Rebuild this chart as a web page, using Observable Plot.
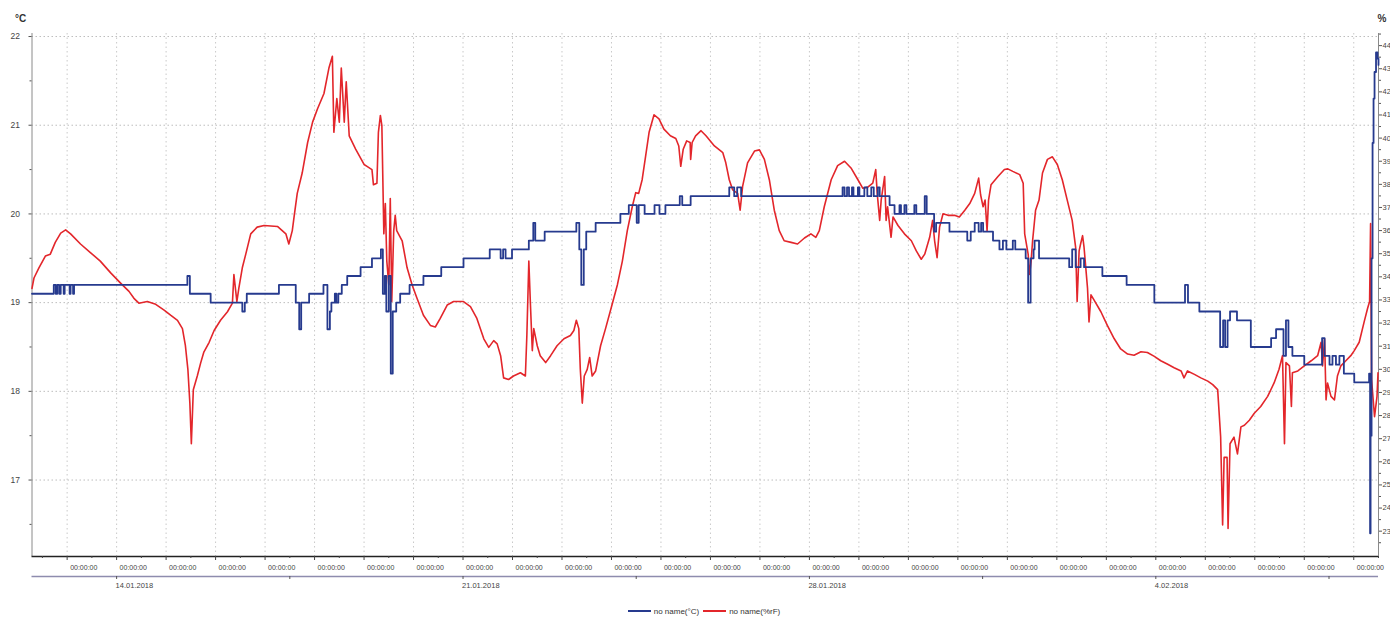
<!DOCTYPE html>
<html><head><meta charset="utf-8">
<script src="https://cdn.jsdelivr.net/npm/d3@7"></script>
<script src="https://cdn.jsdelivr.net/npm/@observablehq/plot@0.6"></script>
<style>
body{margin:0;background:#fff;font-family:"Liberation Sans",Arial,sans-serif;}
#chart{height:600px}
#legend{display:flex;justify-content:center;align-items:center;font-size:8px;color:#333;height:22px;padding-left:22px;box-sizing:border-box}
#legend span.sw{display:inline-block;width:23px;height:2px;margin:0 3px 0 0}
#legend span.lab{margin-right:4px}
</style></head><body>
<div id="chart"></div>
<div id="legend"></div>
<script>
// ---- data (day of January 2018, fractional; 35 = 4 Feb) ----
const tempDays=[12.29,12.73,12.77,12.80,12.84,12.87,12.93,12.95,13.05,13.07,13.12,13.14,15.43,15.48,15.90,16.54,16.59,16.63,17.28,17.62,17.69,17.73,17.89,18.18,18.26,18.31,18.34,18.41,18.44,18.48,18.55,18.66,18.93,19.16,19.34,19.38,19.42,19.45,19.50,19.54,19.58,19.65,19.73,19.92,20.20,20.56,21.01,21.54,21.76,21.81,21.86,21.99,22.33,22.42,22.46,22.65,23.29,23.35,23.39,23.44,23.49,23.68,24.18,24.35,24.51,24.55,24.67,24.87,24.97,25.09,25.38,25.43,25.60,26.38,26.48,26.54,26.62,28.67,28.71,28.76,28.80,28.86,28.89,28.98,29.01,29.11,29.17,29.25,29.30,29.38,29.42,29.62,29.72,29.82,29.85,29.92,29.96,30.12,30.16,30.33,30.37,30.52,30.56,30.83,31.19,31.26,31.34,31.42,31.47,31.51,31.71,31.84,31.91,31.98,32.11,32.16,32.37,32.42,32.47,32.53,32.55,32.64,33.25,33.31,33.38,33.48,33.55,33.92,34.41,34.97,35.59,35.65,35.88,36.30,36.36,36.40,36.45,36.50,36.64,36.92,37.33,37.43,37.58,37.63,37.68,37.76,38.00,38.36,38.41,38.51,38.57,38.64,38.71,38.80,39.01,39.31,39.33,39.34,39.36,39.38,39.40,39.42,39.45,39.48,39.50];
const tempValues=[19.1,19.2,19.1,19.2,19.1,19.2,19.1,19.2,19.1,19.2,19.1,19.2,19.3,19.1,19.0,18.9,19.0,19.1,19.2,19.0,18.7,19.0,19.1,19.2,18.7,18.9,19.0,19.1,19.0,19.1,19.2,19.3,19.4,19.5,19.6,19.1,19.3,18.9,19.3,18.2,18.9,19.0,19.1,19.2,19.3,19.4,19.5,19.6,19.5,19.6,19.5,19.6,19.7,19.9,19.7,19.8,19.9,19.6,19.2,19.6,19.8,19.9,20.0,20.1,19.9,20.1,20.0,20.1,20.0,20.1,20.2,20.1,20.2,20.3,20.2,20.3,20.2,20.3,20.2,20.3,20.2,20.3,20.2,20.3,20.2,20.3,20.2,20.3,20.2,20.3,20.2,20.1,20.0,20.1,20.0,20.1,20.0,20.1,20.0,20.2,20.0,19.8,19.9,19.8,19.7,19.8,19.9,19.8,19.9,19.8,19.7,19.6,19.7,19.6,19.7,19.6,19.5,19.0,19.5,19.6,19.7,19.5,19.4,19.6,19.4,19.5,19.4,19.3,19.2,19.0,19.2,19.0,18.9,18.5,18.8,18.5,18.8,18.9,18.8,18.5,18.6,18.7,18.4,18.8,18.5,18.4,18.3,18.6,18.4,18.3,18.4,18.3,18.4,18.2,18.1,18.2,16.4,17.5,19.5,20.8,21.3,21.6,21.82,21.75,21.68];
const humDays=[12.29,12.33,12.43,12.56,12.66,12.76,12.87,12.97,13.07,13.27,13.47,13.67,13.88,14.08,14.25,14.35,14.45,14.62,14.79,14.96,15.09,15.23,15.33,15.39,15.44,15.48,15.51,15.55,15.63,15.70,15.76,15.87,15.97,16.10,16.24,16.34,16.37,16.43,16.47,16.54,16.61,16.71,16.84,16.98,17.25,17.42,17.48,17.55,17.59,17.65,17.75,17.86,17.96,18.06,18.19,18.29,18.36,18.39,18.45,18.50,18.54,18.60,18.64,18.70,18.83,19.00,19.06,19.16,19.19,19.26,19.29,19.33,19.36,19.40,19.43,19.46,19.50,19.53,19.56,19.60,19.63,19.66,19.77,19.87,19.97,20.07,20.20,20.34,20.44,20.54,20.68,20.81,21.01,21.15,21.28,21.42,21.52,21.62,21.69,21.76,21.82,21.92,22.02,22.16,22.26,22.29,22.33,22.36,22.40,22.43,22.50,22.56,22.67,22.77,22.90,23.04,23.17,23.24,23.29,23.34,23.37,23.41,23.45,23.51,23.56,23.61,23.68,23.78,23.88,24.01,24.12,24.22,24.32,24.42,24.49,24.55,24.62,24.69,24.76,24.86,24.96,25.06,25.19,25.30,25.36,25.40,25.45,25.52,25.59,25.60,25.63,25.70,25.81,25.91,26.08,26.25,26.31,26.38,26.45,26.55,26.60,26.65,26.75,26.89,26.99,27.09,27.19,27.29,27.39,27.49,27.63,27.76,27.90,28.03,28.13,28.20,28.30,28.44,28.57,28.71,28.84,28.98,29.08,29.18,29.28,29.34,29.37,29.42,29.45,29.52,29.55,29.58,29.65,29.69,29.79,29.92,30.06,30.16,30.26,30.33,30.43,30.49,30.53,30.58,30.63,30.70,30.80,30.93,31.03,31.14,31.24,31.34,31.42,31.46,31.51,31.55,31.59,31.62,31.67,31.81,31.94,32.01,32.11,32.25,32.32,32.35,32.42,32.45,32.48,32.51,32.57,32.64,32.71,32.81,32.91,33.01,33.11,33.21,33.31,33.38,33.41,33.45,33.48,33.52,33.55,33.62,33.65,33.69,33.75,33.89,34.02,34.16,34.29,34.43,34.56,34.70,34.83,34.97,35.10,35.24,35.37,35.51,35.57,35.64,35.78,35.91,36.05,36.15,36.25,36.31,36.35,36.38,36.44,36.46,36.50,36.58,36.65,36.72,36.79,36.89,36.99,37.12,37.26,37.39,37.49,37.56,37.60,37.63,37.70,37.74,37.76,37.87,38.00,38.14,38.27,38.34,38.37,38.41,38.44,38.47,38.54,38.61,38.67,38.74,38.84,38.94,39.01,39.11,39.21,39.28,39.32,39.34,39.36,39.42,39.47,39.49];
const humValues=[33.5,33.95,34.39,34.90,34.98,35.49,35.89,36.03,35.86,35.42,35.05,34.68,34.17,33.73,33.37,33.07,32.86,32.93,32.81,32.56,32.34,32.12,31.76,31.02,30.00,28.54,26.78,29.12,29.71,30.29,30.73,31.17,31.68,32.12,32.49,32.86,34.10,32.93,33.51,34.39,34.98,35.86,36.15,36.22,36.18,35.86,35.42,36.00,36.66,37.61,38.49,39.81,40.69,41.27,41.93,43.03,43.54,40.25,41.71,40.69,43.03,40.69,42.44,40.10,39.52,38.86,38.78,38.64,37.98,38.05,40.25,40.98,40.54,35.86,37.17,34.68,33.66,37.39,32.93,36.00,36.66,36.00,35.56,34.39,33.66,33.07,32.34,31.90,31.83,32.20,32.78,32.93,32.93,32.71,32.20,31.32,30.95,31.24,31.10,30.59,29.63,29.56,29.71,29.85,29.71,31.46,34.68,32.93,30.81,31.76,31.02,30.59,30.29,30.59,31.02,31.32,31.46,31.68,32.12,31.76,30.00,28.54,29.71,30.00,30.51,29.71,29.93,31.02,31.76,32.78,33.66,34.68,36.00,37.03,37.64,37.61,38.20,39.22,40.25,41.01,40.83,40.39,40.10,39.98,39.66,38.78,39.52,39.88,39.81,39.08,39.81,40.10,40.32,40.10,39.66,39.37,38.93,38.20,37.76,37.61,36.88,37.91,38.93,39.44,39.49,39.08,38.20,36.88,36.00,35.56,35.49,35.42,35.68,35.86,35.71,36.00,37.03,38.20,38.81,39.00,38.71,38.20,37.83,37.88,38.05,38.64,37.61,36.44,37.32,38.34,36.44,37.03,35.71,36.59,36.22,35.86,35.56,35.12,34.76,34.98,35.71,36.44,35.56,34.83,36.15,36.73,36.66,36.66,36.59,36.88,37.17,37.61,38.27,37.54,37.03,37.32,36.00,37.32,37.98,38.34,38.64,38.67,38.56,38.42,38.05,35.86,34.98,34.10,34.68,35.56,36.88,37.32,38.49,39.08,39.19,38.86,38.20,37.32,36.44,35.27,32.93,35.12,35.42,35.78,35.27,33.51,32.05,33.22,33.00,32.49,31.90,31.32,30.88,30.66,30.61,30.76,30.73,30.56,30.37,30.22,30.07,29.93,29.63,29.93,29.78,29.63,29.49,29.34,29.12,27.07,23.27,26.19,26.19,23.12,26.78,27.07,26.34,27.51,27.58,27.80,28.10,28.39,28.83,29.41,30.00,30.59,26.78,30.29,30.15,28.39,29.85,29.93,30.15,30.37,30.59,31.17,30.15,31.32,28.68,29.41,28.83,28.68,29.71,30.15,30.37,30.59,30.81,31.17,32.05,32.64,32.93,36.30,29.56,27.95,28.83,29.85];
const leftTicks=[17,18,19,20,21,22];
const rightTicks=[23,24,25,26,27,28,29,30,31,32,33,34,35,36,37,38,39,40,41,42,43,44];
const dayTickLabel="00:00:00";
const weekLabelDays=[14,21,28,35];
const weekLabels=["14.01.2018","21.01.2018","28.01.2018","4.02.2018"];
const seriesNames=["no name(°C)","no name(%rF)"];
const unitLeft="°C", unitRight="%";

// ---- layout ----
const W=1390, H=600, mL=31.5, mR=12, mT=33, mB=44;
const yMin=16.138, yMax=22.034, dayStart=12.29, dayEnd=39.5;
const pxPerC=(H-mT-mB)/(yMax-yMin);
const BLUE="#263a8e", RED="#e3262b";
const pctToC=p=>21.8974-(44-p)*0.26066;
const cToPct=c=>44-(21.8974-c)/0.26066;
const dayToDate=d=>new Date(Date.UTC(2018,0,1)+(d-1)*864e5);

const temp=tempDays.map((d,i)=>({t:dayToDate(d),v:tempValues[i]}));
const hum=humDays.map((d,i)=>({t:dayToDate(d),v:pctToC(humValues[i])}));
const dayDates=d3.range(13,40).map(dayToDate);
const halfDates=d3.range(12.5,40,1).map(dayToDate);
const weekTickDates=d3.range(14,39,3.5).map(dayToDate);
const weekDates=weekLabelDays.map(dayToDate);
const leftMinor=d3.range(16.5,22.01,0.5).filter(v=>v%1!==0);
const rightMinor=d3.range(22.5,44.6,1).map(pctToC);
const yLine2=yMin-20/pxPerC;

const chart=Plot.plot({
  width:W,height:H,marginLeft:mL,marginRight:mR,marginTop:mT,marginBottom:mB,
  style:{fontFamily:"'Liberation Sans',Arial,sans-serif",fontSize:"8px",color:"#333",background:"#fff",overflow:"visible"},
  x:{type:"utc",domain:[dayToDate(dayStart),dayToDate(dayEnd)],label:null},
  y:{domain:[yMin,yMax],label:null},
  marks:[
    Plot.ruleX(dayDates,{stroke:"#c9c9c9",strokeDasharray:"1.5,3"}),
    Plot.ruleY(leftTicks,{stroke:"#bdbdbd",strokeDasharray:"1.5,2.5"}),
    Plot.ruleX([dayToDate(dayStart)],{stroke:"#8a8a8a"}),
    Plot.ruleX([dayToDate(dayEnd)],{stroke:"#8a8a8a"}),
    Plot.axisY(leftTicks,{anchor:"left",label:null,tickSize:3,tickPadding:9,fontSize:8.5,tickFormat:d=>String(d),stroke:"#555",color:"#444"}),
    Plot.axisY(leftMinor,{anchor:"left",label:null,tickSize:2,tickFormat:()=>"",stroke:"#555"}),
    Plot.axisY(rightTicks.map(pctToC),{anchor:"right",label:null,tickSize:3,tickPadding:1,fontSize:7.5,tickFormat:c=>String(Math.round(cToPct(c))),stroke:"#555",color:"#444"}),
    Plot.axisY(rightMinor,{anchor:"right",label:null,tickSize:2,tickFormat:()=>"",stroke:"#555"}),
    Plot.text([unitLeft],{frameAnchor:"top-left",dx:-17,dy:-19,fontSize:10,fontWeight:"bold",fill:"#333"}),
    Plot.text([unitRight],{frameAnchor:"top-right",dx:8,dy:-19,fontSize:10,fontWeight:"bold",fill:"#333"}),
    Plot.line(hum,{x:"t",y:"v",stroke:RED,strokeWidth:1.6}),
    Plot.line(temp,{x:"t",y:"v",stroke:BLUE,strokeWidth:1.8,curve:"step-after"}),
    Plot.ruleY([yMin],{stroke:"#222",strokeWidth:1.6}),
    Plot.axisX(dayDates,{anchor:"bottom",label:null,tickSize:4,tickFormat:()=>"",stroke:"#444"}),
    Plot.axisX(halfDates,{anchor:"bottom",label:null,tickSize:2,tickFormat:()=>"",stroke:"#444"}),
    Plot.text(dayDates,{x:d=>d,frameAnchor:"bottom",dy:13,dx:3,textAnchor:"start",text:()=>dayTickLabel,fontSize:7,fill:"#444"}),
    Plot.ruleY([yLine2],{stroke:"#8e8cae",strokeWidth:1.3}),
    Plot.ruleX(weekTickDates,{y1:yLine2,y2:yLine2-3/pxPerC,stroke:"#555"}),
    Plot.text(weekDates,{x:d=>d,frameAnchor:"bottom",dy:31,dx:-1,textAnchor:"start",text:(d,i)=>weekLabels[i],fontSize:7.5,fill:"#444"})
  ]
});
document.getElementById("chart").appendChild(chart);
const lg=document.getElementById("legend");
[[BLUE,seriesNames[0]],[RED,seriesNames[1]]].forEach(([c,n])=>{
  const s=document.createElement("span");s.className="sw";s.style.background=c;lg.appendChild(s);
  const t=document.createElement("span");t.className="lab";t.textContent=n;lg.appendChild(t);
});
</script>
</body></html>
